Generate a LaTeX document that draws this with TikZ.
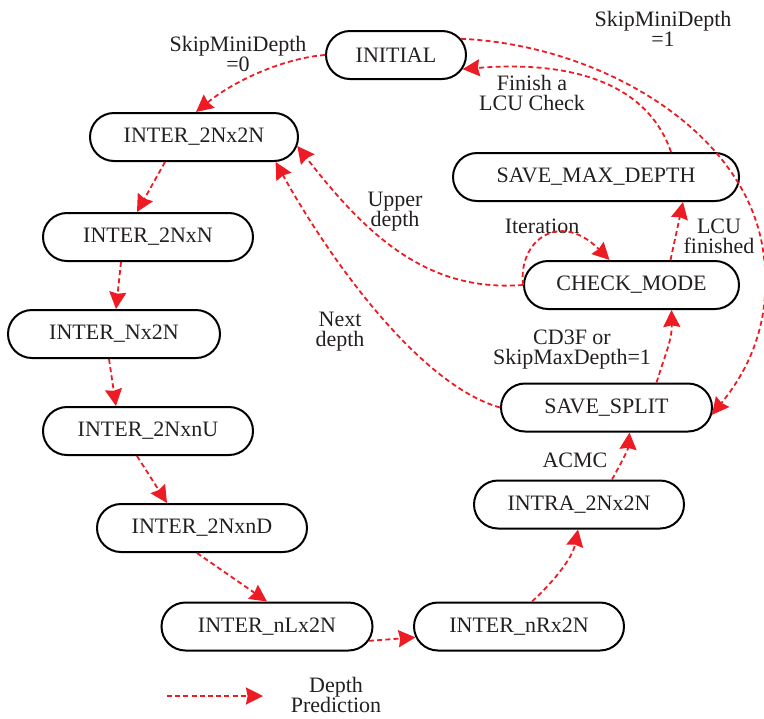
\documentclass[tikz,border=0pt]{standalone}
\usepackage{fontspec}
\setmainfont{Liberation Serif}
\usetikzlibrary{shapes.misc,arrows.meta}
\definecolor{arrred}{RGB}{237,28,36}
\definecolor{txt}{RGB}{35,31,32}
\begin{document}
\begin{tikzpicture}[x=0.5pt,y=-0.5pt,
  st/.style={draw=black,line width=1pt,rounded rectangle,minimum height=24pt,inner sep=0pt,text=txt,font=\fontsize{11}{10}\selectfont},
  lbl/.style={text=txt,align=center,inner sep=0pt,font=\fontsize{11}{10}\selectfont},
  dp/.style={draw=arrred,line width=0.9pt,dash pattern=on 2.5pt off 1.6pt,-{Stealth[length=8.5pt,width=8.5pt,inset=0.8pt,fill=arrred]}}]
\useasboundingbox (0,0) rectangle (764,718);
% nodes
\node[st,minimum width=70pt] (INI) at (396,55) {INITIAL};
\node[st,minimum width=104pt] (A) at (194,137) {INTER\_2Nx2N};
\node[st,minimum width=105pt] (B) at (148,237) {INTER\_2NxN};
\node[st,minimum width=106pt] (C) at (114,334) {INTER\_Nx2N};
\node[st,minimum width=105pt] (D) at (148,431) {INTER\_2NxnU};
\node[st,minimum width=105pt] (E) at (202,528) {INTER\_2NxnD};
\node[st,minimum width=105.5pt] (F) at (267,626.5) {INTER\_nLx2N};
\node[st,minimum width=105pt] (G) at (519,626.5) {INTER\_nRx2N};
\node[st,minimum width=105pt] (H) at (579,504.5) {INTRA\_2Nx2N};
\node[st,minimum width=105.5pt] (SS) at (606.5,407.5) {SAVE\_SPLIT};
\node[st,minimum width=107.5pt] (CM) at (631.5,285) {CHECK\_MODE};
\node[st,minimum width=143pt] (SM) at (596,177) {SAVE\_MAX\_DEPTH};
% labels
\node[lbl] (l1) at (238,54) {SkipMiniDepth\\=0};
\node[lbl] (l2) at (663,29) {SkipMiniDepth\\=1};
\node[lbl] (l3) at (532,93) {Finish a\\LCU Check};
\node[lbl] (l4) at (395,212) {Upper\\depth};
\node[lbl] (l5) at (542,226) {Iteration};
\node[lbl] (l6) at (719,236) {LCU\\finished};
\node[lbl] (l7) at (340,332) {Next\\depth};
\node[lbl] (l8) at (572,350) {CD3F or\\SkipMaxDepth=1};
\node[lbl] (l9) at (575,460) {ACMC};
\node[lbl] (l10) at (336,695) {Depth\\Prediction};
% edges
\draw[dp] (INI.west) .. controls (285,58) and (235,80) .. ([xshift=1pt]A.north);
\draw[dp] (INI.14) .. controls (600,45) and (745,130) .. (763,250) .. controls (775,330) and (740,380) .. (SS.-4);
\draw[dp] ([xshift=37.5pt]SM.north) .. controls (648,85) and (575,60) .. (INI.-12);
\draw[dp] ([xshift=19.5pt]CM.north) -- ([xshift=43.5pt]SM.south);
\draw[dp] (CM.west) .. controls (518,240) and (560,210) .. ([xshift=-11pt]CM.north);
\draw[dp] (CM.west) .. controls (430,292) and (370,240) .. (A.-5);
\draw[dp] (SS.west) .. controls (420,385) and (330,260) .. (A.-17);
\draw[dp] ([xshift=25pt]SS.north) .. controls (665,355) and (672,340) .. ([xshift=20pt]CM.south);
\draw[dp] ([xshift=16.5pt]H.north) .. controls (620,465) and (628,450) .. ([xshift=11.5pt]SS.south);
\draw[dp] ([xshift=6.5pt]G.north) .. controls (550,585) and (572,560) .. ([xshift=-0.5pt]H.south);
\draw[dp] (F.-8) -- (G.186);
\draw[dp] ([xshift=-2.5pt]E.south) -- ([xshift=0pt]F.north);
\draw[dp] ([xshift=-5.5pt]D.south) -- ([xshift=-17.5pt]E.north);
\draw[dp] ([xshift=-2.5pt]C.south) -- ([xshift=-16pt]D.north);
\draw[dp] ([xshift=-13.5pt]B.south) -- ([xshift=1pt]C.north);
\draw[dp] ([xshift=-14.5pt]A.south) -- ([xshift=-5.5pt]B.north);
% legend
\coordinate (lg1) at (167,696);
\coordinate (lg2) at (263,696);
\draw[dp] (lg1) -- (lg2);
\end{tikzpicture}
\end{document}
